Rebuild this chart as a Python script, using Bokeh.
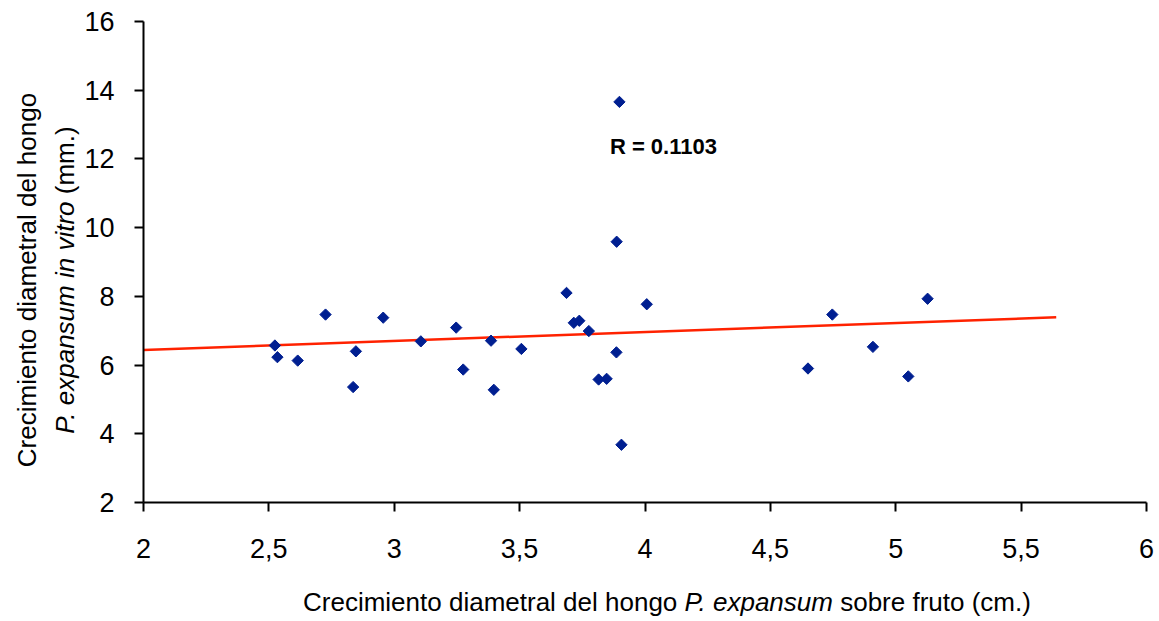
import math
from bokeh.plotting import figure
from bokeh.models import Label, FixedTicker, Range1d, Div
from bokeh.layouts import row, column
from bokeh.embed import file_html
from bokeh.resources import INLINE

# ---- data ----
x_vals = [2.524, 2.534, 2.615, 2.726, 2.836, 2.847, 2.956, 3.106, 3.247, 3.275,
          3.386, 3.397, 3.507, 3.687, 3.716, 3.738, 3.776, 3.815, 3.847, 3.886,
          3.887, 3.898, 3.906, 4.007, 4.650, 4.747, 4.909, 5.050, 5.127]
y_vals = [6.57, 6.23, 6.13, 7.47, 5.36, 6.40, 7.38, 6.69, 7.09, 5.87,
          6.71, 5.28, 6.47, 8.10, 7.23, 7.29, 6.99, 5.58, 5.60, 6.37,
          9.59, 13.66, 3.68, 7.77, 5.90, 7.47, 6.53, 5.67, 7.93]
trend_x = [2.0, 5.64]
trend_y = [6.44, 7.39]
x_ticks = [2, 2.5, 3, 3.5, 4, 4.5, 5, 5.5, 6]
x_tick_labels = ["2", "2,5", "3", "3,5", "4", "4,5", "5", "5,5", "6"]
y_ticks = [2, 4, 6, 8, 10, 12, 14, 16]
r_text = "R = 0.1103"
r_pos = (3.86, 12.36)
# title pieces: (text, italic?)
x_title = [("Crecimiento diametral del hongo ", False), ("P. expansum", True),
           (" sobre fruto (cm.)", False)]
y_title_1 = [("Crecimiento diametral del hongo", False)]
y_title_2 = [("P. expansum", True), (" ", False), ("in vitro", True), (" (mm.)", False)]

FONT = "Liberation Sans"
TITLE_SIZE = 26
W, H = 1159, 621
YDIV_W = 80                 # left strip holding the rotated y title
PLOT_H = 572                # plot height; x title strip below
FL, FR, FT, FB = 143, 1146, 21, 502   # frame edges in page pixels


def to_html(parts):
    return "".join(f"<i>{s}</i>" if it else s for s, it in parts)


p = figure(width=W - YDIV_W, height=PLOT_H, x_range=Range1d(2, 6), y_range=Range1d(2, 16),
           output_backend="svg", toolbar_location=None,
           min_border_left=FL - YDIV_W, min_border_right=W - FR, min_border_top=FT,
           min_border_bottom=PLOT_H - FB)
p.grid.visible = False
p.outline_line_color = None

for ax in (p.xaxis[0], p.yaxis[0]):
    ax.axis_line_width = 2
    ax.axis_line_color = "black"
    ax.major_tick_line_width = 2
    ax.major_tick_line_color = "black"
    ax.major_tick_in = 0
    ax.major_tick_out = 9
    ax.minor_tick_line_color = None
    ax.major_label_text_font = FONT
    ax.major_label_text_font_size = "27px"
    ax.major_label_text_color = "black"

p.xaxis.ticker = FixedTicker(ticks=x_ticks)
p.xaxis.major_label_overrides = {t: l for t, l in zip(x_ticks, x_tick_labels)}
p.xaxis.major_label_standoff = 27
p.yaxis.ticker = FixedTicker(ticks=y_ticks)
p.yaxis.major_label_standoff = 20

p.line(trend_x, trend_y, line_color="#ff2200", line_width=2.5)
p.scatter(x_vals, y_vals, marker="square", angle=math.pi / 4, size=8,
          fill_color="#001f91", line_color="#001f91")

p.add_layout(Label(x=r_pos[0], y=r_pos[1], text=r_text, text_font=FONT,
                   text_font_style="bold", text_font_size="22px",
                   text_baseline="alphabetic", text_align="left", text_color="black"))

# rotated y title: block rotated -90deg about its top-left corner
BLOCK_W = 440
LINE_H = 38
first_baseline = (LINE_H - 1.117 * TITLE_SIZE) / 2 + 0.905 * TITLE_SIZE
tx = 36 - first_baseline          # page x of first line's baseline = 36
ty = 280 + BLOCK_W / 2            # centre of text at page y = 280
y_html = (
    f'<div style="position:absolute; left:0; top:0; width:{BLOCK_W}px; '
    f"font-family:'{FONT}'; font-size:{TITLE_SIZE}px; line-height:{LINE_H}px; "
    f'text-align:center; white-space:nowrap; color:black; '
    f'transform-origin:0 0; transform:translate({tx:.1f}px,{ty:.1f}px) rotate(-90deg);">'
    f"{to_html(y_title_1)}<br>{to_html(y_title_2)}</div>"
)
ydiv = Div(text=y_html, width=YDIV_W, height=PLOT_H, margin=0,
           styles={"position": "relative", "overflow": "visible"})

# x title strip: baseline at page y ~611, starting at page x ~303
x_base_in_strip = 611 - PLOT_H
pad_top = x_base_in_strip - ((1 - 1.117) / 2 + 0.905) * TITLE_SIZE
x_html = (
    f"<div style=\"font-family:'{FONT}'; font-size:{TITLE_SIZE}px; "
    f"line-height:{TITLE_SIZE}px; padding-top:{pad_top:.1f}px; padding-left:303px; "
    f'white-space:nowrap; color:black;">{to_html(x_title)}</div>'
)
xdiv = Div(text=x_html, width=W, height=H - PLOT_H, margin=0)

layout = column(row(ydiv, p, spacing=0), xdiv, spacing=0)
open("out.html", "w").write(file_html(layout, INLINE))
